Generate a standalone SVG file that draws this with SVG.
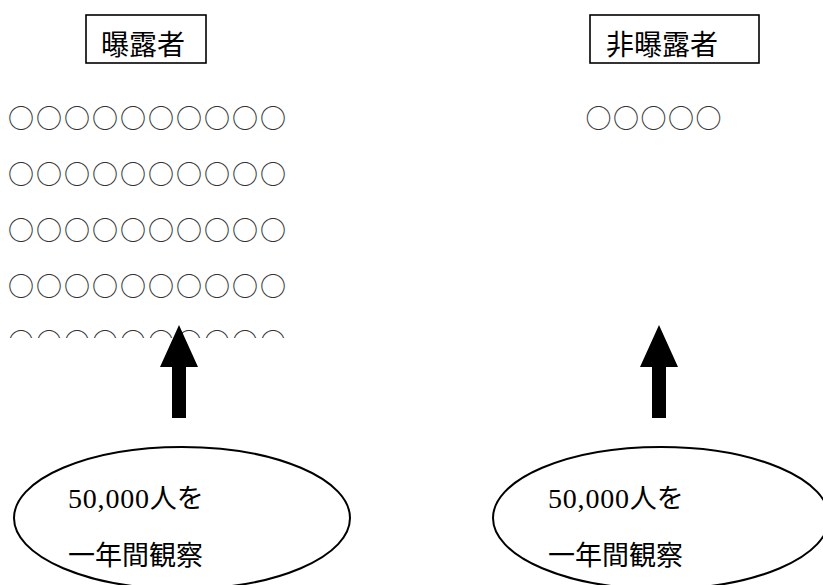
<svg xmlns="http://www.w3.org/2000/svg" width="823" height="585" viewBox="0 0 823 585">
<style>
.box{fill:#fff;stroke:#000;stroke-width:1.6}
.ell{fill:#fff;stroke:#000;stroke-width:2}
.lbl{font-family:"Noto Sans CJK JP","Noto Sans CJK SC",sans-serif;font-size:28px;fill:#000}
.dots{font-family:"Noto Sans CJK JP","Noto Sans CJK SC",sans-serif;font-size:26px;letter-spacing:2px;fill:#333}
.num{font-family:"Liberation Serif","Noto Sans CJK JP",serif;font-size:28px;letter-spacing:0.8px;fill:#000}
.cjk{font-family:"Noto Sans CJK JP","Noto Sans CJK SC",sans-serif;font-size:27px;fill:#000}
.arrow{fill:#000}
</style>
<defs>
<clipPath id="rowclip"><rect x="0" y="300" width="823" height="38"/></clipPath>
</defs>
<g id="exposed-label">
<rect class="box" x="86" y="15" width="120" height="48"/>
<text class="lbl" x="101" y="55">曝露者</text>
</g>
<g id="nonexposed-label">
<rect class="box" x="590" y="15" width="169" height="48"/>
<text class="lbl" x="606" y="55">非曝露者</text>
</g>
<g id="exposed-cases">
<text class="dots" x="8" y="127.5">○○○○○○○○○○</text>
<text class="dots" x="8" y="183.5">○○○○○○○○○○</text>
<text class="dots" x="8" y="239.5">○○○○○○○○○○</text>
<text class="dots" x="8" y="295.5">○○○○○○○○○○</text>
<text class="dots" x="8" y="351.5" clip-path="url(#rowclip)">○○○○○○○○○○</text>
</g>
<g id="nonexposed-cases">
<text class="dots" x="585.5" y="128" style="letter-spacing:1.5px">○○○○○</text>
</g>
<g id="connectors">
<path class="arrow" d="M179,325 L198,367 L186,367 L186,418 L172,418 L172,367 L160,367 Z"/>
<path class="arrow" d="M659,325 L678,367 L666,367 L666,418 L652,418 L652,367 L640,367 Z"/>
</g>
<g id="exposed-cohort">
<ellipse class="ell" cx="182" cy="518" rx="168" ry="71"/>
<text x="68" y="508"><tspan class="num">50,000</tspan><tspan class="cjk">人を</tspan></text>
<text class="cjk" x="68" y="565">一年間観察</text>
</g>
<g id="nonexposed-cohort">
<ellipse class="ell" cx="661" cy="518" rx="168" ry="71"/>
<text x="548" y="508"><tspan class="num">50,000</tspan><tspan class="cjk">人を</tspan></text>
<text class="cjk" x="548" y="565">一年間観察</text>
</g>
</svg>
